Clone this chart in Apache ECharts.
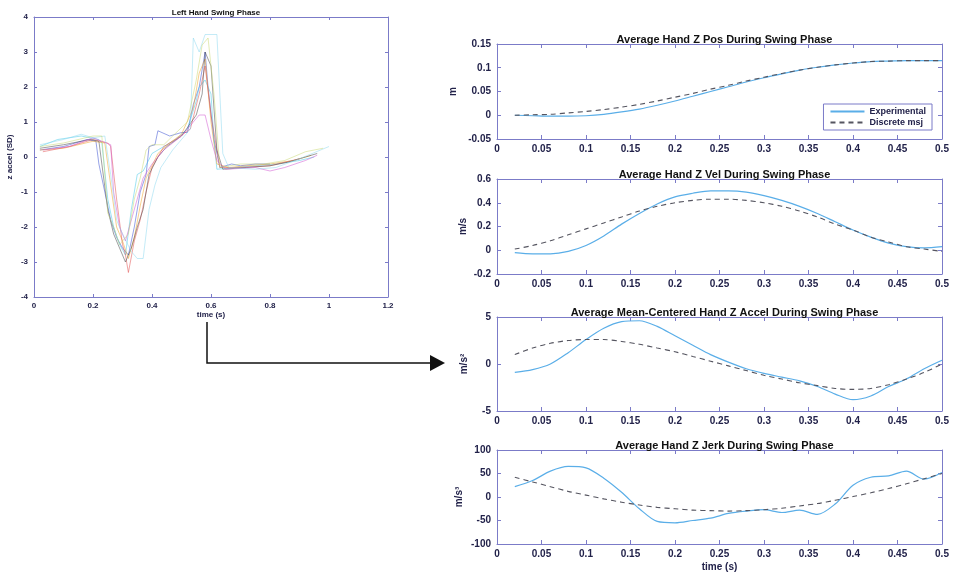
<!DOCTYPE html>
<html><head><meta charset="utf-8">
<script src="https://cdn.jsdelivr.net/npm/echarts@6/dist/echarts.min.js"></script>
<style>html,body{margin:0;padding:0;background:#fff}#c{width:953px;height:579px}</style>
</head><body><div id="c"></div>
<script>
// ---- Left panel: individual trials [time, z accel (SD)] ----
const trial1 = [[0.02,0.2],[0.1,0.3],[0.18,0.5],[0.21,0.45],[0.22,-0.2],[0.24,-1],[0.26,-1.8],[0.28,-2.3],[0.3,-2.6],[0.32,-2.8],[0.34,-2.0],[0.36,-1.0],[0.38,-0.5],[0.39,0.3],[0.41,0.35],[0.42,0.75],[0.46,0.6],[0.5,0.7],[0.52,0.7],[0.54,1.5],[0.56,2.0],[0.58,3.0],[0.59,2.0],[0.61,0.5],[0.63,-0.3],[0.67,-0.2],[0.7,-0.25],[0.75,-0.2],[0.8,-0.2]];
const trial2 = [[0.02,0.3],[0.08,0.5],[0.16,0.6],[0.22,0.5],[0.23,0.4],[0.25,-1.2],[0.27,-2.0],[0.29,-2.5],[0.31,-2.8],[0.33,-1.5],[0.35,-0.5],[0.37,-0.4],[0.4,0.1],[0.44,0.3],[0.48,0.5],[0.52,0.8],[0.55,1.6],[0.56,2.0],[0.58,2.2],[0.6,1.8],[0.61,0.5],[0.62,-0.35],[0.68,-0.3],[0.75,-0.25],[0.82,-0.2],[0.9,-0.1],[0.95,0.0]];
const trial3 = [[0.02,0.2],[0.1,0.25],[0.2,0.45],[0.24,0.4],[0.26,-0.8],[0.28,-2.0],[0.3,-2.4],[0.32,-2.9],[0.34,-2.3],[0.36,-1.4],[0.38,-0.6],[0.42,0.1],[0.46,0.4],[0.5,0.65],[0.54,1.4],[0.56,2.4],[0.58,2.8],[0.6,1.0],[0.62,-0.2],[0.66,-0.3],[0.72,-0.25],[0.8,-0.2],[0.88,-0.1],[0.94,0.05]];
const trial4 = [[0.03,0.15],[0.12,0.3],[0.2,0.5],[0.25,0.4],[0.26,0.3],[0.28,-1.2],[0.3,-2.5],[0.31,-2.8],[0.32,-3.3],[0.34,-2.4],[0.36,-1.8],[0.38,-1.0],[0.4,-0.3],[0.44,0.3],[0.48,0.5],[0.53,0.8],[0.56,1.8],[0.58,2.6],[0.6,1.2],[0.63,-0.3],[0.7,-0.3],[0.8,-0.25],[0.9,-0.05]];
const trial5 = [[0.02,0.25],[0.1,0.35],[0.19,0.5],[0.22,0.45],[0.25,-1.5],[0.27,-2.2],[0.29,-2.6],[0.31,-3.0],[0.33,-2.6],[0.35,-2.0],[0.37,-1.5],[0.39,-0.5],[0.42,0.0],[0.45,0.3],[0.5,0.6],[0.55,1.2],[0.57,1.8],[0.58,3.0],[0.6,2.6],[0.62,0.2],[0.64,-0.35],[0.72,-0.3],[0.8,-0.25],[0.86,-0.15],[0.92,0.0],[0.96,0.1]];
const trial6 = [[0.03,0.2],[0.12,0.3],[0.2,0.55],[0.26,0.35],[0.27,-1.0],[0.29,-2.0],[0.31,-2.4],[0.33,-1.8],[0.35,-1.2],[0.37,-0.6],[0.4,-0.2],[0.44,0.2],[0.5,0.6],[0.56,1.2],[0.58,1.2],[0.6,0.5],[0.62,-0.1],[0.65,-0.35],[0.75,-0.3],[0.8,-0.4],[0.85,-0.3],[0.92,-0.1],[0.96,0.05]];
const trial7 = [[0.02,0.35],[0.1,0.5],[0.16,0.65],[0.2,0.55],[0.24,0.6],[0.26,-0.5],[0.28,-1.8],[0.3,-2.2],[0.33,-2.7],[0.35,-2.9],[0.37,-2.9],[0.39,-1.5],[0.41,-0.8],[0.43,-0.3],[0.47,0.2],[0.5,0.5],[0.53,0.8],[0.54,3.4],[0.56,3.0],[0.58,3.5],[0.62,3.5],[0.64,0.1],[0.66,-0.3],[0.75,-0.35],[0.82,-0.3],[0.9,-0.05],[1.0,0.3]];
const trial8 = [[0.02,0.3],[0.1,0.4],[0.2,0.6],[0.23,0.6],[0.25,-1.6],[0.27,-2.0],[0.29,-2.5],[0.32,-2.2],[0.34,-1.2],[0.36,-0.6],[0.38,0.2],[0.4,0.35],[0.44,0.35],[0.47,0.6],[0.52,1.0],[0.55,2.2],[0.57,3.2],[0.59,3.4],[0.61,1.8],[0.63,-0.3],[0.7,-0.2],[0.78,-0.2],[0.85,-0.1],[0.92,0.15],[0.98,0.25]];
const trials = [trial1, trial2, trial3, trial4, trial5, trial6, trial7, trial8];
const trialColors = ['#3048d0','#40c8e8','#f0a020','#e04848','#404040','#d050d0','#8ad8f0','#c8d870'];

// ---- Right panels: averages ----
const time = [0.02,0.04,0.06,0.08,0.10,0.12,0.14,0.16,0.18,0.20,0.22,0.24,0.26,0.28,0.30,0.32,0.34,0.36,0.38,0.40,0.42,0.44,0.46,0.48,0.50];
const posExp = [0,-0.001,-0.002,-0.002,-0.001,0.002,0.007,0.013,0.021,0.030,0.040,0.050,0.060,0.070,0.079,0.087,0.095,0.101,0.106,0.110,0.113,0.114,0.115,0.115,0.115];
const posMsj = [0,0.001,0.002,0.005,0.008,0.012,0.017,0.023,0.030,0.038,0.046,0.055,0.063,0.072,0.080,0.088,0.095,0.101,0.106,0.110,0.113,0.114,0.115,0.115,0.115];
const velExp = [-0.02,-0.03,-0.03,-0.01,0.04,0.12,0.22,0.31,0.39,0.45,0.48,0.50,0.50,0.49,0.46,0.42,0.37,0.31,0.24,0.17,0.11,0.06,0.03,0.02,0.03];
const velMsj = [0.01,0.04,0.08,0.13,0.18,0.23,0.28,0.33,0.37,0.40,0.42,0.43,0.43,0.42,0.40,0.37,0.33,0.28,0.22,0.17,0.11,0.07,0.03,0.01,-0.01];
const accExp = [-0.9,-0.6,0.0,1.2,2.6,3.8,4.5,4.6,4.0,3.0,2.0,1.0,0.2,-0.5,-1.0,-1.4,-1.8,-2.4,-3.2,-3.8,-3.4,-2.4,-1.6,-0.5,0.4];
const accMsj = [1.0,1.7,2.2,2.5,2.6,2.6,2.4,2.1,1.7,1.3,0.8,0.3,-0.2,-0.7,-1.2,-1.6,-2.0,-2.3,-2.6,-2.7,-2.6,-2.2,-1.6,-0.9,0.0];
const jerkExp = [22,35,55,65,62,40,10,-25,-52,-55,-50,-45,-35,-30,-27,-33,-28,-37,-15,25,42,45,55,38,52];
const jerkMsj = [42,32,22,12,4,-4,-11,-17,-22,-25,-28,-29,-30,-29,-27,-24,-19,-14,-7,1,9,18,28,39,50];

const titles = ['Left Hand Swing Phase','Average Hand Z Pos During Swing Phase','Average Hand Z Vel During Swing Phase','Average Mean-Centered Hand Z Accel During Swing Phase','Average Hand Z Jerk During Swing Phase'];
const yNames = ['z accel (SD)','m','m/s','m/s\u00b2','m/s\u00b3'];
const xTicks = [{min:0,max:1.2,interval:0.2},{min:0,max:0.5,interval:0.05}];
const yTicks = [{min:-4,max:4,interval:1},{min:-0.05,max:0.15,interval:0.05},{min:-0.2,max:0.6,interval:0.2},{min:-5,max:5,interval:5},{min:-100,max:100,interval:50}];

const frame = '#7b7bc8';
const labelCol = '#22224a';
const grids = [
  {left:34, top:17, width:354, height:280},
  {left:497, top:44, width:445, height:95},
  {left:497, top:179, width:445, height:95},
  {left:497, top:317, width:445, height:94},
  {left:497, top:450, width:445, height:94}
];
const fmt = v => String(Number(v.toFixed(3)));
const xAxes = [], yAxes = [];
grids.forEach((g, i) => {
  const xt = xTicks[i === 0 ? 0 : 1], yt = yTicks[i];
  const small = i === 0;
  const common = {axisLine:{show:true,onZero:false,lineStyle:{color:frame,width:1}}, axisTick:{inside:true,length:small?3:4,lineStyle:{color:frame}}, splitLine:{show:false}};
  xAxes.push(Object.assign({type:'value', gridIndex:i, position:'bottom', min:xt.min, max:xt.max, interval:xt.interval,
    axisLabel:{color:labelCol, fontSize:small?8:10, fontWeight:'bold', fontFamily:'Liberation Sans', margin:5, formatter:fmt},
    name:(i===0||i===4)?'time (s)':'', nameLocation:'middle', nameGap:small?14:18,
    nameTextStyle:{color:labelCol, fontSize:small?8:10, fontWeight:'bold', fontFamily:'Liberation Sans'}}, common));
  xAxes.push(Object.assign({type:'value', gridIndex:i, position:'top', min:xt.min, max:xt.max, interval:xt.interval, axisLabel:{show:false}}, common));
  yAxes.push(Object.assign({type:'value', gridIndex:i, position:'left', min:yt.min, max:yt.max, interval:yt.interval,
    axisLabel:{color:labelCol, fontSize:small?8:10, fontWeight:'bold', fontFamily:'Liberation Sans', margin:6, formatter:fmt},
    name:yNames[i], nameLocation:'middle', nameGap:small?20:[40,39,29,28,33][i],
    nameTextStyle:{color:labelCol, fontSize:small?8:10, fontWeight:'bold', fontFamily:'Liberation Sans'}}, common));
  yAxes.push(Object.assign({type:'value', gridIndex:i, position:'right', min:yt.min, max:yt.max, interval:yt.interval, axisLabel:{show:false}}, common));
});

const series = [];
trials.forEach((tr, k) => {
  series.push({type:'line', xAxisIndex:0, yAxisIndex:0, data:tr, symbol:'none', silent:true,
    lineStyle:{color:trialColors[k], width:1, opacity:0.5}});
});
const expColor = '#5aaee8', msjColor = '#555560';
const pairs = [[posExp,posMsj],[velExp,velMsj],[accExp,accMsj],[jerkExp,jerkMsj]];
pairs.forEach((p, j) => {
  const gi = j + 1;
  series.push({type:'line', name:'Experimental', xAxisIndex:gi*2, yAxisIndex:gi*2, data:time.map((t,n)=>[t,p[0][n]]), symbol:'none', smooth:0.3,
    lineStyle:{color:expColor, width:1.2}, itemStyle:{color:expColor}});
  series.push({type:'line', name:'Discrete msj', xAxisIndex:gi*2, yAxisIndex:gi*2, data:time.map((t,n)=>[t,p[1][n]]), symbol:'none', smooth:0.3,
    lineStyle:{color:msjColor, width:1.1, type:[5,4]}, itemStyle:{color:msjColor}});
});

const titleObjs = grids.map((g, i) => ({text:titles[i], left:g.left + g.width/2, top:g.top - (i===0?13:15), textAlign:'center',
  textStyle:{color:'#111', fontSize:i===0?8:11, fontWeight:'bold', fontFamily:'Liberation Sans'}}));

const option = {
  animation:false,
  backgroundColor:'#fff',
  title:titleObjs,
  grid:grids.map(g => Object.assign({containLabel:false}, g)),
  xAxis:xAxes,
  yAxis:yAxes,
  legend:{data:['Experimental','Discrete msj'], orient:'vertical', right:21, top:104, itemWidth:34, itemHeight:8, itemGap:2,
    padding:[3,6,3,6], borderColor:frame, borderWidth:1, backgroundColor:'#fff', selectedMode:false,
    itemStyle:{opacity:0},
    textStyle:{color:labelCol, fontSize:9, fontWeight:'bold', fontFamily:'Liberation Sans'}},
  series:series,
  graphic:[
    {type:'polyline', shape:{points:[[207,322],[207,363],[432,363]]}, style:{stroke:'#111', lineWidth:1.5, fill:null}},
    {type:'polygon', shape:{points:[[430,355],[445,363],[430,371]]}, style:{fill:'#111'}}
  ]
};
const chart = echarts.init(document.getElementById('c'), null, {renderer:'canvas'});
chart.setOption(option);
</script></body></html>
